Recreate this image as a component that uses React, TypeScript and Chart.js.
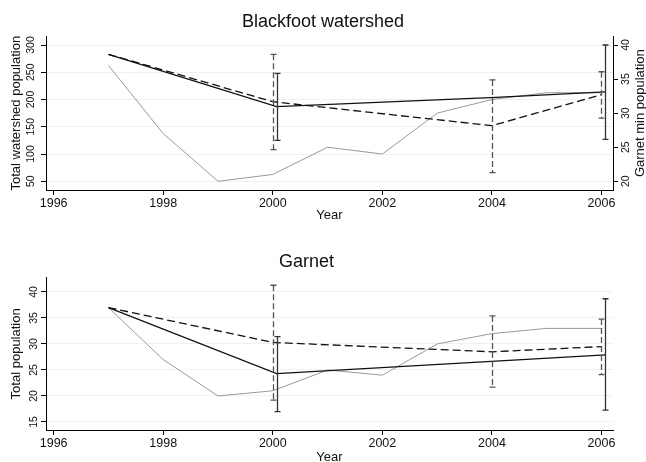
import React, { useEffect, useRef } from 'react';
import { Chart, registerables } from 'chart.js';

Chart.register(...registerables);

const FONT = "'Liberation Sans', Arial, Helvetica, sans-serif";

// ---- data ----
const years = [1997, 1998, 1999, 2000, 2001, 2002, 2003, 2004, 2005, 2006];
const garnetMinPopulation = [37, 27, 20, 21, 25, 24, 30, 32, 33, 33];

const estimateYears = [1997, 2000, 2004, 2006];
const blackfootSolid = [283, 187, 204, 214];
const blackfootDashed = [283, 196, 152, 209];
const garnetSolid = [37, 24.3, 26.7, 27.9];
const garnetDashed = [37, 30.3, 28.5, 29.5];

const dashedCiYears = [2000, 2004, 2006];
const blackfootDashedLow = [108, 66, 166];
const blackfootDashedHigh = [283, 236, 251];
const garnetDashedLow = [19.2, 21.7, 24.1];
const garnetDashedHigh = [41.3, 35.4, 34.8];

const solidCiYears = [2000, 2006];
const blackfootSolidLow = [125, 127];
const blackfootSolidHigh = [248, 300];
const garnetSolidLow = [17.0, 17.3];
const garnetSolidHigh = [31.4, 38.7];

const xTickStep = 2;

// small horizontal dodge of the solid estimates (as in the original figure)
const solidDodge = 0.07;

const solidX = (y: number) => (y === estimateYears[0] ? y : y + solidDodge);

type Bar = { x: number; low: number; high: number; dashed: boolean };

const errorBarPlugin = {
  id: 'errorBars',
  afterDatasetsDraw(chart: any, _args: any, opts: any) {
    const bars: Bar[] = (opts && opts.bars) || [];
    const xs = chart.scales.x;
    const ys = chart.scales.y;
    const ctx = chart.ctx;
    ctx.save();
    for (const b of bars) {
      const px = Math.round(xs.getPixelForValue(b.x)) + 0.5;
      const top = ys.getPixelForValue(b.high);
      const bot = ys.getPixelForValue(b.low);
      ctx.strokeStyle = b.dashed ? '#555' : '#333';
      ctx.lineWidth = 1.3;
      ctx.setLineDash(b.dashed ? [6, 3] : []);
      ctx.beginPath();
      ctx.moveTo(px, top);
      ctx.lineTo(px, bot);
      ctx.stroke();
      ctx.setLineDash([]);
      ctx.beginPath();
      ctx.moveTo(px - 3, top);
      ctx.lineTo(px + 3, top);
      ctx.moveTo(px - 3, bot);
      ctx.lineTo(px + 3, bot);
      ctx.stroke();
    }
    ctx.restore();
  },
};

const sideTitlePlugin = {
  id: 'sideTitle',
  afterDraw(chart: any, _args: any, opts: any) {
    if (!opts || !opts.text) return;
    const ctx = chart.ctx;
    const a = chart.chartArea;
    ctx.save();
    ctx.translate(opts.x, (a.top + a.bottom) / 2);
    ctx.rotate(-Math.PI / 2);
    ctx.fillStyle = '#111';
    ctx.font = `13px ${FONT}`;
    ctx.textAlign = 'center';
    ctx.textBaseline = 'middle';
    ctx.fillText(opts.text, 0, 0);
    ctx.restore();
  },
};

const lineDatasets = (solid: number[], dashed: number[], grey: number[], greyAxis: string) => [
  {
    label: 'solid',
    data: estimateYears.map((y, i) => ({ x: solidX(y), y: solid[i] })),
    borderColor: '#111',
    borderWidth: 1.3,
    pointRadius: 0,
    tension: 0,
    yAxisID: 'y',
    order: 1,
  },
  {
    label: 'dashed',
    data: estimateYears.map((y, i) => ({ x: y, y: dashed[i] })),
    borderColor: '#111',
    borderWidth: 1.3,
    borderDash: [8, 4],
    pointRadius: 0,
    tension: 0,
    yAxisID: 'y',
    order: 2,
  },
  {
    label: 'grey',
    data: years.map((y, i) => ({ x: y, y: grey[i] })),
    borderColor: '#999',
    borderWidth: 1,
    pointRadius: 0,
    tension: 0,
    yAxisID: greyAxis,
    order: 3,
  },
];

const makeBars = (
  dLow: number[], dHigh: number[], sLow: number[], sHigh: number[]
): Bar[] => [
  ...dashedCiYears.map((y, i) => ({ x: y, low: dLow[i], high: dHigh[i], dashed: true })),
  ...solidCiYears.map((y, i) => ({ x: solidX(y), low: sLow[i], high: sHigh[i], dashed: false })),
];

const xScale = (height: number, titlePadBottom: number) => ({
  type: 'linear',
  min: 1995.86,
  max: 2006.21,
  afterFit: (s: any) => { s.height = height; },
  ticks: {
    stepSize: xTickStep,
    includeBounds: false,
    callback: (v: any) => String(v),
    font: { size: 12.5, family: FONT },
    color: '#111',
    padding: 1,
    maxRotation: 0,
    autoSkip: false,
  },
  grid: { drawOnChartArea: false, tickLength: 5, tickColor: '#000', lineWidth: 1 },
  border: { color: '#000', width: 1 },
  title: {
    display: true,
    text: 'Year',
    color: '#111',
    font: { size: 13, family: FONT },
    padding: { top: 0, bottom: titlePadBottom },
  },
});

const yTicks = (padding: number) => ({
  minRotation: 90,
  maxRotation: 90,
  crossAlign: 'center',
  font: { size: 10.5, family: FONT },
  color: '#111',
  padding,
  includeBounds: false,
});

function topConfig(): any {
  return {
    type: 'line',
    data: { datasets: lineDatasets(blackfootSolid, blackfootDashed, garnetMinPopulation, 'y2') },
    plugins: [errorBarPlugin, sideTitlePlugin],
    options: {
      responsive: false,
      animation: false,
      layout: { padding: 0 },
      plugins: {
        legend: { display: false },
        tooltip: { enabled: false },
        title: {
          display: true,
          text: 'Blackfoot watershed',
          color: '#111',
          font: { size: 18, family: FONT, weight: 'normal' },
          padding: { top: 11.7, bottom: 3 },
        },
        errorBars: { bars: makeBars(blackfootDashedLow, blackfootDashedHigh, blackfootSolidLow, blackfootSolidHigh) },
        sideTitle: { text: 'Garnet min population', x: 640.5 },
      },
      scales: {
        x: xScale(40, 7.2),
        y: {
          type: 'linear',
          position: 'left',
          min: 34,
          max: 316,
          afterFit: (s: any) => { s.width = 46; },
          ticks: { ...yTicks(1), stepSize: 50 },
          grid: { color: '#edf1f2', tickColor: '#000', tickLength: 5 },
          border: { color: '#000', width: 1 },
          title: {
            display: true,
            text: 'Total watershed population',
            color: '#111',
            font: { size: 13, family: FONT },
            padding: { top: 8.2, bottom: 0 },
          },
        },
        y2: {
          type: 'linear',
          position: 'right',
          min: 18.72,
          max: 41.28,
          afterFit: (s: any) => { s.width = 33; },
          ticks: { ...yTicks(2.6), stepSize: 5 },
          grid: { drawOnChartArea: false, tickColor: '#000', tickLength: 5 },
          border: { color: '#000', width: 1 },
        },
      },
    },
  };
}

function bottomConfig(): any {
  return {
    type: 'line',
    data: { datasets: lineDatasets(garnetSolid, garnetDashed, garnetMinPopulation, 'y') },
    plugins: [errorBarPlugin],
    options: {
      responsive: false,
      animation: false,
      layout: { padding: { left: 0, top: 0, bottom: 0, right: 33 } },
      plugins: {
        legend: { display: false },
        tooltip: { enabled: false },
        title: {
          display: true,
          text: 'Garnet',
          color: '#111',
          font: { size: 18, family: FONT, weight: 'normal' },
          padding: { top: 21.7, bottom: 4.4 },
        },
        errorBars: { bars: makeBars(garnetDashedLow, garnetDashedHigh, garnetSolidLow, garnetSolidHigh) },
      },
      scales: {
        x: xScale(32, -2.8),
        y: {
          type: 'linear',
          position: 'left',
          min: 13.46,
          max: 42.75,
          afterFit: (s: any) => { s.width = 46; },
          ticks: { ...yTicks(1), stepSize: 5 },
          grid: { color: '#edf1f2', tickColor: '#000', tickLength: 5 },
          border: { color: '#000', width: 1 },
          title: {
            display: true,
            text: 'Total population',
            color: '#111',
            font: { size: 13, family: FONT },
            padding: { top: 8.2, bottom: 0 },
          },
        },
      },
    },
  };
}

function Panel({ height, make }: { height: number; make: () => any }) {
  const ref = useRef<HTMLCanvasElement | null>(null);
  useEffect(() => {
    if (!ref.current) return;
    const chart = new Chart(ref.current, make());
    return () => chart.destroy();
  }, [make]);
  return <canvas ref={ref} width={646} height={height} style={{ display: 'block', width: 646, height }} />;
}

export default function App() {
  return (
    <div style={{ position: 'absolute', left: 0, top: 0, width: 646, height: 462, background: '#fff', overflow: 'hidden' }}>
      <Panel height={230} make={topConfig} />
      <Panel height={232} make={bottomConfig} />
    </div>
  );
}
